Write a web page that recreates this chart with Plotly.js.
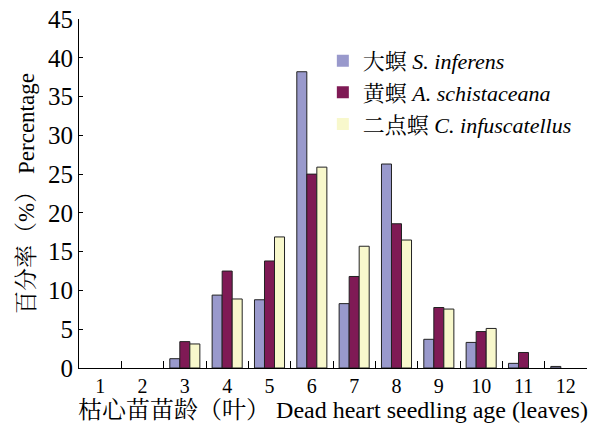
<!DOCTYPE html>
<html><head><meta charset="utf-8">
<script src="https://cdn.plot.ly/plotly-3.0.1.min.js"></script>
<style>body{margin:0;background:#fff}#c{width:600px;height:425px}</style>
</head><body><div id="c"></div>
<script>
const categories = ['1','2','3','4','5','6','7','8','9','10','11','12'];
const sInferens = [0, 0, 1.2, 9.4, 8.8, 38.2, 8.3, 26.3, 3.7, 3.3, 0.6, 0.2];
const aSchistaceana = [0, 0, 3.4, 12.5, 13.8, 25.0, 11.8, 18.6, 7.8, 4.7, 2.0, 0];
const cInfuscatellus = [0, 0, 3.1, 8.9, 16.9, 25.9, 15.7, 16.5, 7.6, 5.1, 0, 0];
const seriesNames = ['大螟 <i>S. inferens</i>', '黄螟 <i>A. schistaceana</i>', '二点螟 <i>C. infuscatellus</i>'];
const colors = ['#9999cc', '#7f1a55', '#f8f8cc'];
const font = 'Liberation Serif, Times New Roman, Noto Serif CJK SC, Noto Sans CJK SC, serif';
const traces = [sInferens, aSchistaceana, cInfuscatellus].map((v, i) => ({
  type: 'bar', x: categories, y: v, name: seriesNames[i],
  marker: {color: colors[i], line: {color: '#222', width: v.map(d => d === 0 ? 0 : 1)}}
}));
const layout = {
  width: 600, height: 425,
  margin: {l: 79, r: 13, t: 19, b: 57},
  paper_bgcolor: '#fff', plot_bgcolor: '#fff',
  font: {family: font, size: 18, color: '#000'},
  bargap: 0.29, bargroupgap: 0,
  showlegend: true,
  legend: {x: 0.48, y: 0.94, xanchor: 'left', yanchor: 'top', bgcolor: 'rgba(0,0,0,0)',
    font: {family: font, size: 22}, tracegroupgap: 0, itemwidth: 30},
  xaxis: {type: 'category', showline: true, linecolor: '#000', linewidth: 1,
    ticks: 'inside', tickson: 'boundaries', ticklen: 7, tickwidth: 1, tickcolor: '#000',
    showgrid: false, zeroline: false, tickfont: {size: 20},
    title: {text: '枯心苗苗龄（叶） Dead heart seedling age (leaves)', font: {size: 24}, standoff: 2}},
  yaxis: {range: [0, 45], dtick: 5, showline: true, linecolor: '#000', linewidth: 1,
    ticks: 'inside', ticklen: 4, tickcolor: '#000', showgrid: false, zeroline: false,
    tickfont: {size: 25},
    title: {text: '百分率（%） Percentage', font: {size: 23}, standoff: 6}}
};
Plotly.newPlot('c', traces, layout, {displayModeBar: false});
</script></body></html>
